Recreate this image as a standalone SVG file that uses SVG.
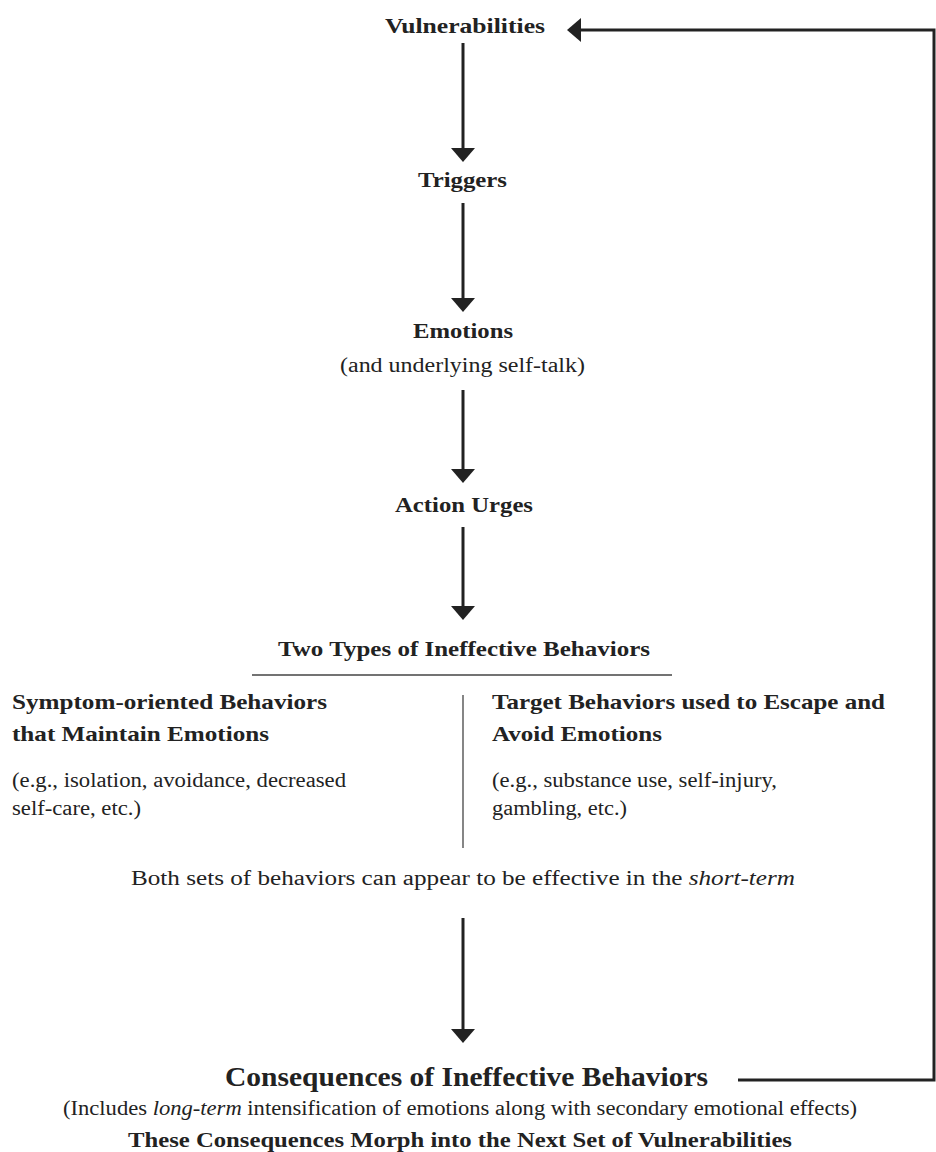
<svg xmlns="http://www.w3.org/2000/svg" width="936" height="1152" viewBox="0 0 936 1152">
<defs>
<style>
text{font-family:"Liberation Serif","Times New Roman",serif;fill:#222}
.b{font-weight:bold;font-size:21px}
.r{font-size:20px}
.big{font-weight:bold;font-size:27px}
.conn{stroke:#222;stroke-width:3;fill:none}
.thin{stroke:#444;stroke-width:1.3;fill:none}
</style>
<marker id="ah" viewBox="0 0 14 24" refX="10" refY="12" markerWidth="14" markerHeight="24" markerUnits="userSpaceOnUse" orient="auto">
<path d="M0,0 L14,12 L0,24 Z" fill="#222"/>
</marker>
</defs>
<rect width="936" height="1152" fill="#fff"/>

<g id="vulnerabilities"><text class="b" x="385" y="33" textLength="160" lengthAdjust="spacingAndGlyphs">Vulnerabilities</text></g>
<g id="triggers"><text class="b" x="418" y="187" textLength="89" lengthAdjust="spacingAndGlyphs">Triggers</text></g>
<g id="emotions">
<text class="b" x="413" y="338" textLength="100" lengthAdjust="spacingAndGlyphs">Emotions</text>
<text class="r" x="340" y="372" textLength="245" lengthAdjust="spacingAndGlyphs">(and underlying self-talk)</text>
</g>
<g id="action-urges"><text class="b" x="395" y="512" textLength="138" lengthAdjust="spacingAndGlyphs">Action Urges</text></g>
<g id="two-types">
<text class="b" x="278" y="656" textLength="372" lengthAdjust="spacingAndGlyphs">Two Types of Ineffective Behaviors</text>
<line class="thin" x1="252" y1="675" x2="672" y2="675"/>
<line class="thin" x1="463" y1="695" x2="463" y2="848"/>
</g>
<g id="symptom-oriented">
<text class="b" x="12" y="709" textLength="315" lengthAdjust="spacingAndGlyphs">Symptom-oriented Behaviors</text>
<text class="b" x="12" y="741" textLength="257" lengthAdjust="spacingAndGlyphs">that Maintain Emotions</text>
<text class="r" x="12" y="787" textLength="334" lengthAdjust="spacingAndGlyphs">(e.g., isolation, avoidance, decreased</text>
<text class="r" x="12" y="815" textLength="129" lengthAdjust="spacingAndGlyphs">self-care, etc.)</text>
</g>
<g id="target-behaviors">
<text class="b" x="492" y="709" textLength="393" lengthAdjust="spacingAndGlyphs">Target Behaviors used to Escape and</text>
<text class="b" x="492" y="741" textLength="170" lengthAdjust="spacingAndGlyphs">Avoid Emotions</text>
<text class="r" x="492" y="787" textLength="285" lengthAdjust="spacingAndGlyphs">(e.g., substance use, self-injury,</text>
<text class="r" x="492" y="815" textLength="135" lengthAdjust="spacingAndGlyphs">gambling, etc.)</text>
</g>
<g id="both-sets"><text class="r" x="131" y="885" textLength="664" lengthAdjust="spacingAndGlyphs">Both sets of behaviors can appear to be effective in the <tspan font-style="italic">short-term</tspan></text></g>
<g id="consequences">
<text class="big" x="225" y="1086" textLength="483" lengthAdjust="spacingAndGlyphs">Consequences of Ineffective Behaviors</text>
<text class="r" x="63" y="1115" textLength="794" lengthAdjust="spacingAndGlyphs">(Includes <tspan font-style="italic">long-term</tspan> intensification of emotions along with secondary emotional effects)</text>
<text class="b" x="128" y="1147" textLength="664" lengthAdjust="spacingAndGlyphs">These Consequences Morph into the Next Set of Vulnerabilities</text>
</g>

<g id="connectors">
<line class="conn" x1="463" y1="43" x2="463" y2="158" marker-end="url(#ah)"/>
<line class="conn" x1="463" y1="203" x2="463" y2="308" marker-end="url(#ah)"/>
<line class="conn" x1="463" y1="390" x2="463" y2="479" marker-end="url(#ah)"/>
<line class="conn" x1="463" y1="527" x2="463" y2="616" marker-end="url(#ah)"/>
<line class="conn" x1="463" y1="918" x2="463" y2="1039" marker-end="url(#ah)"/>
<polyline class="conn" points="738,1080 934,1080 934,30 571,30" marker-end="url(#ah)"/>
</g>
</svg>
